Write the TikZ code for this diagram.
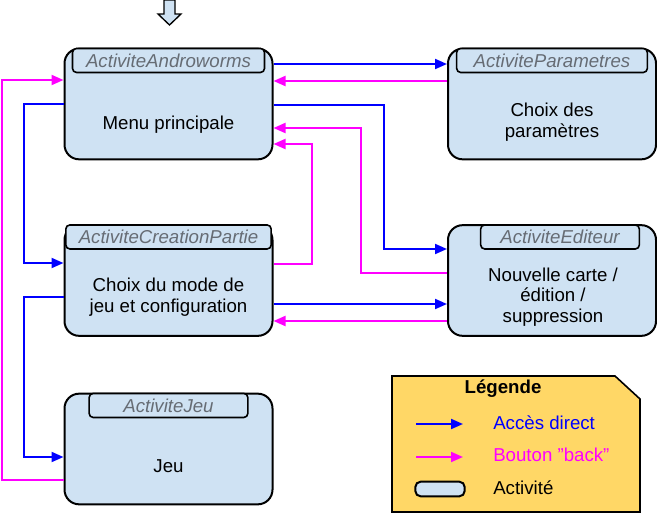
\documentclass[tikz,border=0pt]{standalone}
\usepackage{fontspec}
\setmainfont{Liberation Sans}
\usetikzlibrary{arrows.meta}

\begin{document}
\begin{tikzpicture}[x=0.75pt,y=0.75pt,yscale=-1,xscale=1,
  activite/.style={draw, line width=1.5pt, fill={rgb, 255:red, 207; green, 226; blue, 243}, rounded corners=11pt, inner sep=0pt, minimum width=156pt, minimum height=83pt},
  onglet/.style={draw, line width=1.2pt, fill={rgb, 255:red, 207; green, 226; blue, 243}, rounded corners=3pt, inner sep=0pt, minimum height=18pt, anchor=north, text={rgb, 255:red, 102; green, 108; blue, 116}, font=\fontsize{14}{16}\selectfont\itshape},
  texte/.style={align=center, inner sep=0.75pt, font=\fontsize{14}{15.5}\selectfont},
  direct/.style={draw={rgb, 255:red, 0; green, 0; blue, 255}, line width=1.5pt, -{Triangle[length=9pt,width=7.5pt]}},
  back/.style={draw={rgb, 255:red, 255; green, 0; blue, 255}, line width=1.5pt, -{Triangle[length=9pt,width=7.5pt]}}]
\useasboundingbox (0,0) rectangle (657,514);

%Shape: Arrow entree
\draw [line width=1pt, fill={rgb, 255:red, 207; green, 226; blue, 243}] (164,0) -- (175,0) -- (175,14) -- (181,14) -- (169.5,25) -- (158,14) -- (164,14) -- cycle ;

%Shape: Activites
\node [activite] (andro) at (168.5,104) {};
\node [activite] (param) at (552,104) {};
\node [activite] (editeur) at (552,280.5) {};
\node [activite] (creation) at (168.5,280.5) {};
\node [activite] (jeu) at (168.5,449) {};

% Onglets
\node [onglet, minimum width=144pt] (andro-o) at (andro.north) {ActiviteAndroworms};
\node [onglet, minimum width=143pt] (param-o) at (param.north) {ActiviteParametres};
\node [onglet, minimum width=119pt] (editeur-o) at ([xshift=6pt]editeur.north) {ActiviteEditeur};
\node [onglet, minimum width=154pt] (creation-o) at (creation.north) {ActiviteCreationPartie};
\node [onglet, minimum width=119pt] (jeu-o) at (jeu.north) {ActiviteJeu};

% Text Node
\node [texte] (andro-t) at (168.5,125) {Menu principale};
% Text Node
\node [texte] (param-t) at (552,122) {Choix des\\paramètres};
% Text Node
\node [texte] (editeur-t) at (553,297) {Nouvelle carte /\\édition /\\suppression};
% Text Node
\node [texte] (creation-t) at (168.5,297.5) {Choix du mode de\\jeu et configuration};
% Text Node
\node [texte] (jeu-t) at (168.5,466) {Jeu};

%Connectors
\draw [direct] (andro.east |- 0,64) -- (param.west |- 0,64) ;
\draw [back] (param.west |- 0,81) -- (andro.east |- 0,81) ;
\draw [direct] (andro.east |- 0,105) -| (384,249) -- (editeur.west |- 0,249) ;
\draw [back] (editeur.west |- 0,273) -| (361,128) -- (andro.east |- 0,128) ;
\draw [back] (creation.east |- 0,264) -| (312,144) -- (andro.east |- 0,144) ;
\draw [direct] (creation.east |- 0,304) -- (editeur.west |- 0,304) ;
\draw [back] (editeur.west |- 0,321) -- (creation.east |- 0,321) ;
\draw [back] (jeu.west |- 0,480) -| (2,80) -- (andro.west |- 0,80) ;
\draw [direct] (andro.west |- 0,104) -| (24,263) -- (creation.west |- 0,263) ;
\draw [direct] (creation.west |- 0,297) -| (24,457) -- (jeu.west |- 0,457) ;

%Shape: Legende
\draw [line width=1.2pt, fill={rgb, 255:red, 255; green, 215; blue, 102}] (392,376) -- (615,376) -- (640,399) -- (640,512) -- (392,512) -- cycle ;
% Text Node
\node [texte, font=\fontsize{14}{15.5}\selectfont\bfseries] (leg-titre) at (503,389) {Légende};
\coordinate (leg-d1) at (416,424);
\coordinate (leg-d2) at (463,424);
\draw [direct] (leg-d1) -- (leg-d2) ;
\coordinate (leg-b1) at (416,457);
\coordinate (leg-b2) at (463,457);
\draw [back] (leg-b1) -- (leg-b2) ;
\node [draw, line width=1.5pt, fill={rgb, 255:red, 207; green, 226; blue, 243}, rounded corners=4pt, inner sep=0pt, minimum width=37pt, minimum height=11pt] (leg-act) at (440,489) {};
% Text Node
\node [texte, anchor=west, text={rgb, 255:red, 0; green, 0; blue, 255}] (leg-d-t) at (492,423) {Accès direct};
% Text Node
\node [texte, anchor=west, text={rgb, 255:red, 255; green, 0; blue, 255}] (leg-b-t) at (492,455) {Bouton "back"};
% Text Node
\node [texte, anchor=west] (leg-act-t) at (492,488) {Activité};

\end{tikzpicture}
\end{document}
